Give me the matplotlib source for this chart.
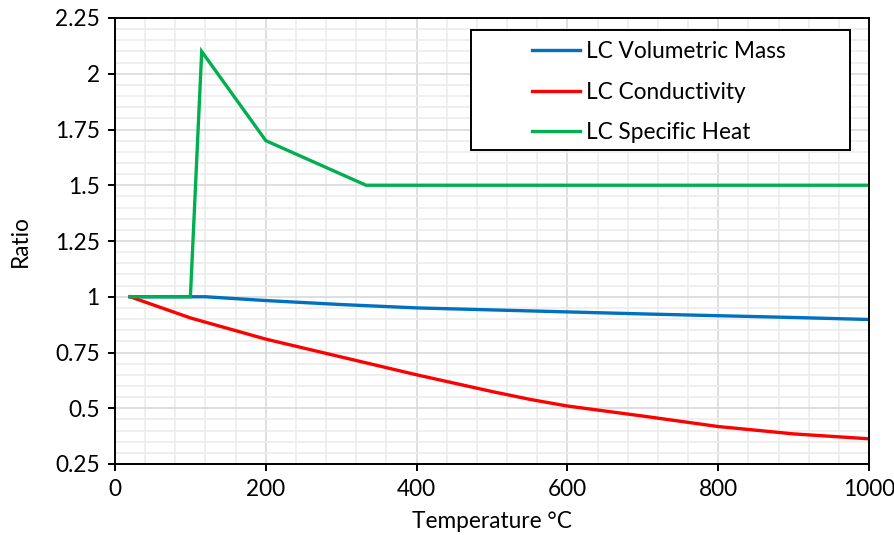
import matplotlib
matplotlib.use("Agg")
import matplotlib.pyplot as plt
from matplotlib.ticker import MultipleLocator, FuncFormatter
from matplotlib.patches import Rectangle

plt.rcParams['font.family'] = ['Lato', 'DejaVu Sans']

# Data
temp_mass = [20, 120, 200, 300, 400, 500, 600, 700, 800, 900, 1000]
mass = [1.0, 1.0, 0.983, 0.965, 0.950, 0.941, 0.932, 0.923, 0.915, 0.907, 0.898]

temp_cond = [20, 100, 200, 300, 400, 500, 550, 600, 700, 800, 900, 1000]
cond = [1.0, 0.905, 0.81, 0.73, 0.65, 0.575, 0.54, 0.51, 0.465, 0.418, 0.385, 0.363]

temp_heat = [20, 100, 115, 200, 333, 1000]
heat = [1.0, 1.0, 2.1, 1.7, 1.5, 1.5]

labels = ["LC Volumetric Mass", "LC Conductivity", "LC Specific Heat"]
colors = ["#0070C0", "#FF0000", "#00B050"]

FS = 16.3

fig = plt.figure(figsize=(8.95, 5.35), dpi=100)
ax = fig.add_axes([115/895, 1-464/535, 754/895, 446/535])

ax.plot(temp_mass, mass, color=colors[0], lw=2.4, label=labels[0], solid_joinstyle='round')
ax.plot(temp_cond, cond, color=colors[1], lw=2.4, label=labels[1], solid_joinstyle='round')
ax.plot(temp_heat, heat, color=colors[2], lw=2.4, label=labels[2], solid_joinstyle='miter')

ax.set_xlim(0, 1000)
ax.set_ylim(0.25, 2.25)
ax.xaxis.set_major_locator(MultipleLocator(200))
ax.xaxis.set_minor_locator(MultipleLocator(40))
ax.yaxis.set_major_locator(MultipleLocator(0.25))
ax.yaxis.set_minor_locator(MultipleLocator(0.05))
ax.yaxis.set_major_formatter(FuncFormatter(lambda v, p: f"{v:g}"))

ax.grid(which='major', color='#d9d9d9', lw=1.2)
ax.grid(which='minor', color='#ececec', lw=1.2)
ax.set_axisbelow(True)

for s in ax.spines.values():
    s.set_color('black')
    s.set_linewidth(1.4)

ax.tick_params(which='major', direction='out', length=5, width=1.4, labelsize=FS, colors='black', pad=6)
ax.tick_params(which='minor', length=0)

ax.set_xlabel("Temperature °C", fontsize=FS, labelpad=8)
ax.set_ylabel("Ratio", fontsize=FS, labelpad=17)

# legend frame (Excel-style box with centered entries)
frame = Rectangle((0.472, 0.704), 0.503, 0.269, transform=ax.transAxes,
                  facecolor='white', edgecolor='black', lw=1.4, zorder=5)
ax.add_patch(frame)
leg = ax.legend(loc='center left', bbox_to_anchor=(0.553, 0.834), frameon=False,
                fontsize=FS, handlelength=2.1, handletextpad=0.3,
                borderpad=0, labelspacing=0.85, borderaxespad=0)
leg.set_zorder(6)

fig.savefig("out.png", dpi=100)
